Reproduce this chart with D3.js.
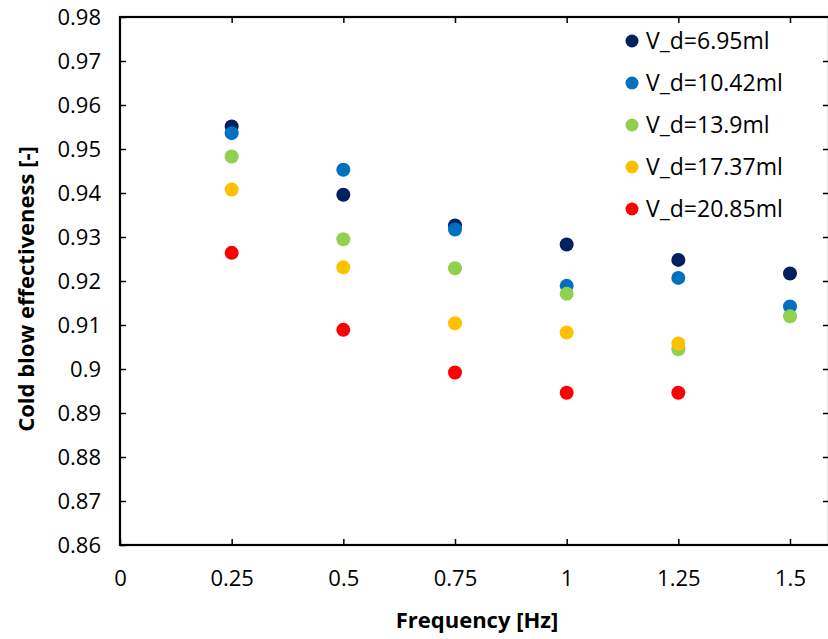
<!DOCTYPE html>
<html>
<head>
<meta charset="utf-8">
<script src="https://cdn.jsdelivr.net/npm/d3@7"></script>
<style>
  body { margin: 0; background: #fff; }
  text { font-family: "Open Sans", sans-serif; fill: #000; }
</style>
</head>
<body>
<svg id="chart" width="828" height="639"></svg>
<script>
const frequencies = [0.25, 0.5, 0.75, 1, 1.25, 1.5];
const seriesNames = ["V_d=6.95ml", "V_d=10.42ml", "V_d=13.9ml", "V_d=17.37ml", "V_d=20.85ml"];
const seriesColors = ["#002060", "#0070C0", "#92D050", "#FFC000", "#FF0000"];
const vd695 = [0.9551, 0.9396, 0.9326, 0.9283, 0.9248, 0.9217];
const vd1042 = [0.9536, 0.9453, 0.9317, 0.9189, 0.9207, 0.9142];
const vd139 = [0.9483, 0.9295, 0.9229, 0.9171, 0.9045, 0.9120];
const vd1737 = [0.9408, 0.9231, 0.9104, 0.9083, 0.9058, null];
const vd2085 = [0.9264, 0.9089, 0.8992, 0.8946, 0.8946, null];
const xTicks = [0, 0.25, 0.5, 0.75, 1, 1.25, 1.5];
const yTicks = [0.86, 0.87, 0.88, 0.89, 0.9, 0.91, 0.92, 0.93, 0.94, 0.95, 0.96, 0.97, 0.98];

const allSeries = [vd695, vd1042, vd139, vd1737, vd2085];

const plotLeft = 120, plotTop = 17, plotRight = 829, plotBottom = 545;

const svg = d3.select("#chart");

// x: 0..1.5 spans 670px, frame runs a bit past 1.5
const x = d3.scaleLinear().domain([0, 1.5]).range([plotLeft, 790]);
const y = d3.scaleLinear().domain([0.86, 0.98]).range([plotBottom, plotTop]);

const tickLen = 6;

// bottom axis labels + inward ticks
const xAxis = svg.append("g")
    .attr("transform", `translate(0,${plotBottom})`)
    .call(d3.axisBottom(x).tickValues(xTicks).tickSize(-tickLen)
        .tickFormat(d => d3.format("")(d)));
xAxis.select(".domain").remove();
xAxis.selectAll("text").style("font-size", "22px").attr("y", 25).attr("dy", "0.71em");
xAxis.selectAll("line").attr("stroke-width", 1.5);

// top ticks
const xTop = svg.append("g")
    .attr("transform", `translate(0,${plotTop})`)
    .call(d3.axisTop(x).tickValues(xTicks.slice(1)).tickSize(-tickLen).tickFormat(""));
xTop.select(".domain").remove();
xTop.selectAll("line").attr("stroke-width", 1.5);

// left axis
const yAxis = svg.append("g")
    .attr("transform", `translate(${plotLeft},0)`)
    .call(d3.axisLeft(y).tickValues(yTicks).tickSize(-tickLen)
        .tickFormat(d => d3.format("")(+d.toFixed(2))));
yAxis.select(".domain").remove();
yAxis.selectAll("text").style("font-size", "22px").attr("x", -19);
yAxis.selectAll("line").attr("stroke-width", 1.5);

// right ticks
const yRight = svg.append("g")
    .attr("transform", `translate(${plotRight},0)`)
    .call(d3.axisRight(y).tickValues(yTicks.slice(1, -1)).tickSize(-tickLen).tickFormat(""));
yRight.select(".domain").remove();
yRight.selectAll("line").attr("stroke-width", 1.5);

// frame
svg.append("rect")
    .attr("x", plotLeft).attr("y", plotTop)
    .attr("width", plotRight - plotLeft).attr("height", plotBottom - plotTop)
    .attr("fill", "none").attr("stroke", "#000").attr("stroke-width", 2.2);

// points
allSeries.forEach((vals, i) => {
    svg.append("g").selectAll("circle")
        .data(vals.map((v, j) => ({ f: frequencies[j], v })).filter(d => d.v !== null))
        .join("circle")
        .attr("cx", d => x(d.f))
        .attr("cy", d => y(d.v))
        .attr("r", 7)
        .attr("fill", seriesColors[i]);
});

// legend
const legend = svg.append("g").attr("transform", "translate(632,41)");
seriesNames.forEach((name, i) => {
    const g = legend.append("g").attr("transform", `translate(0,${i * 42})`);
    g.append("circle").attr("r", 6.5).attr("fill", seriesColors[i]);
    g.append("text").attr("x", 14).attr("dy", "0.35em")
        .style("font-size", "23px").text(name);
});

// axis titles
svg.append("text")
    .attr("x", 477).attr("y", 628)
    .attr("text-anchor", "middle")
    .style("font-size", "22px").style("font-weight", "bold")
    .text("Frequency [Hz]");

svg.append("text")
    .attr("transform", `translate(34,${(plotTop + plotBottom) / 2 + 8}) rotate(-90)`)
    .attr("text-anchor", "middle")
    .style("font-size", "22px").style("font-weight", "bold")
    .text("Cold blow effectiveness [-]");
</script>
</body>
</html>
